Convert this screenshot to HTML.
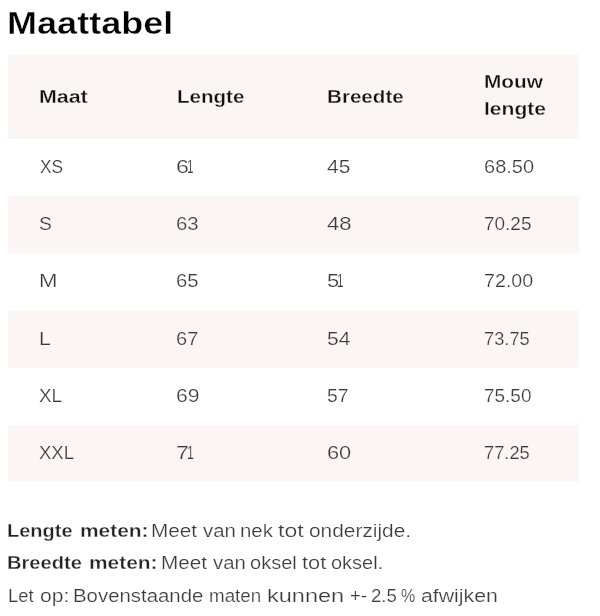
<!DOCTYPE html>
<html lang="nl"><head><meta charset="utf-8"><title>Maattabel</title>
<style>
html,body{margin:0;padding:0;background:#fff;}
body{width:600px;height:616px;overflow:hidden;position:relative;font-family:"Liberation Sans",sans-serif;}
#w{position:absolute;left:0;top:0;width:600px;height:616px;filter:blur(0.35px);}
h2,p,table,tr,th,td,b{margin:0;padding:0;border:0;font:inherit;}
table{border-collapse:collapse;}
.s{position:absolute;left:8px;width:571px;background:#fbf6f3;}
span{position:absolute;display:block;white-space:nowrap;line-height:1;transform-origin:0 0;}
.t{font-size:31px;font-weight:700;color:#000;-webkit-text-stroke:0.39px #fff;}
.h{font-size:18px;font-weight:700;color:#111;-webkit-text-stroke:0.30px #fff;}
.r{font-size:18px;font-weight:400;color:#3a3a3a;-webkit-text-stroke:0.22px #fff;}
.pb{font-size:18px;font-weight:700;color:#222;-webkit-text-stroke:0.30px #fff;}
span.k{-webkit-text-stroke-color:#fbf6f3;}
</style></head><body><div id="w">
<div class="s" style="top:55px;height:84px"></div>
<div class="s" style="top:54px;height:1px;opacity:0.50"></div>
<div class="s" style="top:197px;height:56px"></div>
<div class="s" style="top:196px;height:1px;opacity:0.90"></div>
<div class="s" style="top:253px;height:1px;opacity:0.10"></div>
<div class="s" style="top:311px;height:56px"></div>
<div class="s" style="top:310px;height:1px;opacity:0.50"></div>
<div class="s" style="top:367px;height:1px;opacity:0.60"></div>
<div class="s" style="top:426px;height:55px"></div>
<div class="s" style="top:425px;height:1px;opacity:0.90"></div>
<div class="s" style="top:481px;height:1px;opacity:0.70"></div>
<h2><span class="t" style="left:6.63px;top:7.96px;transform:scaleX(1.1634)">Maattabel</span></h2>
<table>
<thead><tr><th><span class="h k" style="left:39.20px;top:87.76px;transform:scaleX(1.1883)">Maat</span></th><th><span class="h k" style="left:176.76px;top:87.76px;transform:scaleX(1.1424)">Lengte</span></th><th><span class="h k" style="left:327.15px;top:87.76px;transform:scaleX(1.1448)">Breedte</span></th><th><span class="h k" style="left:484.24px;top:73.06px;transform:scaleX(1.1556)">Mouw</span><br><span class="h k" style="left:484.10px;top:100.26px;transform:scaleX(1.1713)">lengte</span></th></tr></thead>
<tbody>
<tr><td><span class="r" style="left:39.51px;top:158.06px;transform:scaleX(0.9610)">XS</span></td><td><span class="r" style="left:176.20px;top:158.06px;transform:scaleX(1.2871)">6</span><span class="r" style="left:187.31px;top:158.06px;transform:scaleX(0.6551)">1</span></td><td><span class="r" style="left:327.41px;top:158.06px;transform:scaleX(1.1617)">45</span></td><td><span class="r" style="left:484.18px;top:158.06px;transform:scaleX(1.1116)">68.50</span></td></tr>
<tr><td><span class="r k" style="left:38.92px;top:215.23px;transform:scaleX(1.0714)">S</span></td><td><span class="r k" style="left:176.35px;top:215.23px;transform:scaleX(1.1338)">63</span></td><td><span class="r k" style="left:327.37px;top:215.23px;transform:scaleX(1.2271)">48</span></td><td><span class="r k" style="left:484.24px;top:215.23px;transform:scaleX(1.0537)">70.25</span></td></tr>
<tr><td><span class="r" style="left:39.32px;top:272.40px;transform:scaleX(1.2309)">M</span></td><td><span class="r" style="left:176.36px;top:272.40px;transform:scaleX(1.1276)">65</span></td><td><span class="r" style="left:326.51px;top:272.40px;transform:scaleX(1.2172)">5</span><span class="r" style="left:337.11px;top:272.40px;transform:scaleX(0.6551)">1</span></td><td><span class="r" style="left:484.20px;top:272.40px;transform:scaleX(1.0931)">72.00</span></td></tr>
<tr><td><span class="r k" style="left:39.41px;top:329.57px;transform:scaleX(1.1719)">L</span></td><td><span class="r k" style="left:176.38px;top:329.57px;transform:scaleX(1.1123)">67</span></td><td><span class="r k" style="left:327.05px;top:329.57px;transform:scaleX(1.1679)">54</span></td><td><span class="r k" style="left:484.27px;top:329.57px;transform:scaleX(1.0167)">73.75</span></td></tr>
<tr><td><span class="r" style="left:39.47px;top:386.74px;transform:scaleX(1.0443)">XL</span></td><td><span class="r" style="left:176.32px;top:386.74px;transform:scaleX(1.1726)">69</span></td><td><span class="r" style="left:327.13px;top:386.74px;transform:scaleX(1.0726)">57</span></td><td><span class="r" style="left:484.24px;top:386.74px;transform:scaleX(1.0537)">75.50</span></td></tr>
<tr><td><span class="r k" style="left:39.48px;top:443.91px;transform:scaleX(1.0281)">XXL</span></td><td><span class="r k" style="left:176.10px;top:443.91px;transform:scaleX(1.2907)">7</span><span class="r k" style="left:187.07px;top:443.91px;transform:scaleX(0.6818)">1</span></td><td><span class="r k" style="left:326.78px;top:443.91px;transform:scaleX(1.2101)">60</span></td><td><span class="r k" style="left:484.27px;top:443.91px;transform:scaleX(1.0167)">77.25</span></td></tr>
</tbody></table>
<p><b><span class="pb" style="left:7.30px;top:521.56px;transform:scaleX(1.1107)">Lengte</span> <span class="pb" style="left:79.73px;top:521.56px;transform:scaleX(1.1613)">meten:</span></b> <span class="r" style="left:151.14px;top:521.56px;transform:scaleX(1.1524)">Meet</span> <span class="r" style="left:202.56px;top:521.56px;transform:scaleX(1.1317)">van</span> <span class="r" style="left:239.77px;top:521.56px;transform:scaleX(1.1331)">nek</span> <span class="r" style="left:277.98px;top:521.56px;transform:scaleX(1.2771)">tot</span> <span class="r" style="left:308.94px;top:521.56px;transform:scaleX(1.1595)">onderzijde.</span></p>
<p><b><span class="pb" style="left:7.29px;top:554.36px;transform:scaleX(1.1171)">Breedte</span> <span class="pb" style="left:89.13px;top:554.36px;transform:scaleX(1.1613)">meten:</span></b> <span class="r" style="left:161.14px;top:554.36px;transform:scaleX(1.1524)">Meet</span> <span class="r" style="left:212.56px;top:554.36px;transform:scaleX(1.1317)">van</span> <span class="r" style="left:249.74px;top:554.36px;transform:scaleX(1.1124)">oksel</span> <span class="r" style="left:301.50px;top:554.36px;transform:scaleX(1.2126)">tot</span> <span class="r" style="left:331.49px;top:554.36px;transform:scaleX(1.1097)">oksel.</span></p>
<p><span class="r" style="left:7.85px;top:586.56px;transform:scaleX(1.0246)">Let</span> <span class="r" style="left:40.18px;top:586.56px;transform:scaleX(1.1729)">op:</span> <span class="r" style="left:73.18px;top:586.56px;transform:scaleX(1.1325)">Bovenstaande</span> <span class="r" style="left:208.63px;top:586.56px;transform:scaleX(1.0425)">maten</span> <span class="r" style="left:267.04px;top:586.56px;transform:scaleX(1.3058)">kunnen</span> <span class="r" style="left:350.21px;top:586.56px;transform:scaleX(1.0288)">+-</span> <span class="r" style="left:370.95px;top:586.56px;transform:scaleX(1.0354)">2.5</span> <span class="r" style="left:401.37px;top:586.56px;transform:scaleX(0.8916)">%</span> <span class="r" style="left:420.92px;top:586.56px;transform:scaleX(1.1816)">afwijken</span></p>
</div></body></html>
